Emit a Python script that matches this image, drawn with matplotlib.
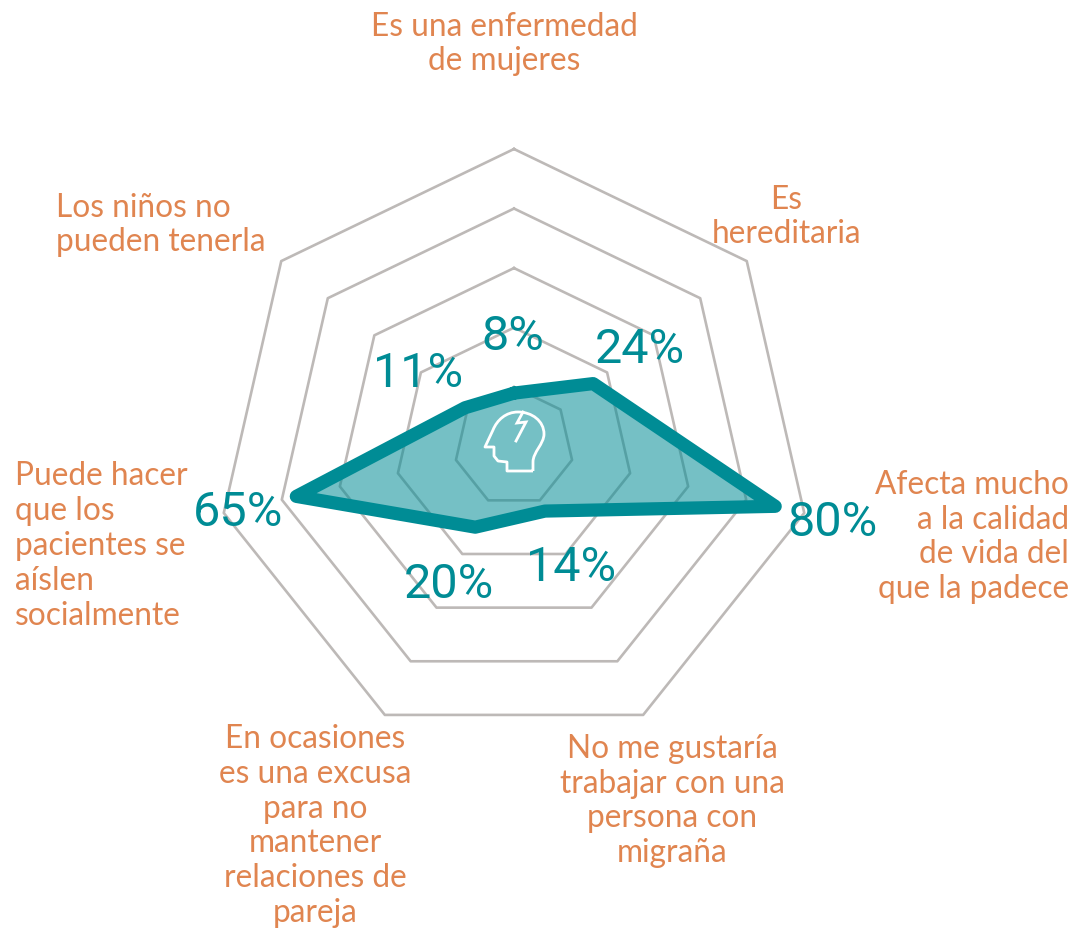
import numpy as np
import matplotlib
matplotlib.use('Agg')
import matplotlib.pyplot as plt
from matplotlib.path import Path
from matplotlib.patches import PathPatch

# Categorias del radar, en sentido horario desde arriba
categorias = ['Es una enfermedad\nde mujeres',
              'Es\nhereditaria',
              'Afecta mucho\na la calidad\nde vida del\nque la padece',
              'No me gustaría\ntrabajar con una\npersona con\nmigraña',
              'En ocasiones\nes una excusa\npara no\nmantener\nrelaciones de\npareja',
              'Puede hacer\nque los\npacientes se\naíslen\nsocialmente',
              'Los niños no\npueden tenerla']
valores = [8, 24, 80, 14, 20, 65, 11]
anillos = [10, 30, 50, 70, 90]

# Posicion de los textos en pixeles: x, y, alineacion
pos_cat = [(504, 44, 'center'), (786, 217, 'center'), (1069, 537, 'right'),
           (672, 801, 'center'), (315, 826, 'center'), (15, 546, 'left'),
           (56, 225, 'left')]
pos_val = [(513, 337), (640, 350), (832, 523), (571, 568), (449, 585),
           (238, 513), (418, 374)]

TEAL = '#008C95'
GRIS = '#BDB9B7'
NARANJA = '#E08550'

W, H = 1076, 930
cx, cy, R = 514, 446.7, 297.7

fig = plt.figure(figsize=(W/100, H/100), dpi=100, facecolor='white')
ax = fig.add_axes([(cx-R)/W, (H-cy-R)/H, 2*R/W, 2*R/H], projection='polar')
ax.set_theta_zero_location('N')
ax.set_theta_direction(-1)
ax.set_ylim(-10, 90)
ax.axis('off')

ang = np.linspace(0, 2*np.pi, len(valores), endpoint=False)
ang_c = np.append(ang, ang[0])

for a in anillos:
    ax.plot(ang_c, [a]*len(ang_c), color=GRIS, lw=1.9, clip_on=False, zorder=1)

val_c = np.append(valores, valores[0])
ax.fill(ang_c, val_c, color=TEAL, alpha=0.54, lw=0, zorder=2)
ax.plot(ang_c, val_c, color=TEAL, lw=9.5, solid_joinstyle='round', solid_capstyle='round',
        clip_on=False, zorder=3)

# Capa en pixeles para textos e icono
capa = fig.add_axes([0, 0, 1, 1], facecolor='none')
capa.set_xlim(0, W)
capa.set_ylim(H, 0)
capa.axis('off')

for txt, (x, y, al) in zip(categorias, pos_cat):
    capa.text(x, y, txt, color=NARANJA, fontsize=22.8, family='Lato',
              ha=al, va='center', multialignment=al, linespacing=1.2)
for v, (x, y) in zip(valores, pos_val):
    capa.text(x, y, f'{v}%', color=TEAL, fontsize=35, family='Roboto', ha='center', va='center')

# Icono de la cabeza
M, C4, L = Path.MOVETO, Path.CURVE4, Path.LINETO
cabeza = [(533, 471), (507, 471), (507, 462), (498, 461), (494, 456), (494, 447),
          (485, 447), (493, 430), (497, 420), (506, 412), (518, 412),
          (532, 412), (544, 421), (544, 434), (544, 444), (533, 452), (533, 462), (533, 471)]
cod = [M, L, L, L, L, L, L, L, C4, C4, C4, C4, C4, C4, C4, C4, C4, L]
capa.add_patch(PathPatch(Path(cabeza, cod), fill=False, ec='white', lw=2.0, joinstyle='round'))
rayo = [(523, 412), (517, 423), (526, 422), (516, 441)]
capa.plot(*zip(*rayo), color='white', lw=2.0, solid_joinstyle='miter')

fig.savefig('out.png', dpi=100)
